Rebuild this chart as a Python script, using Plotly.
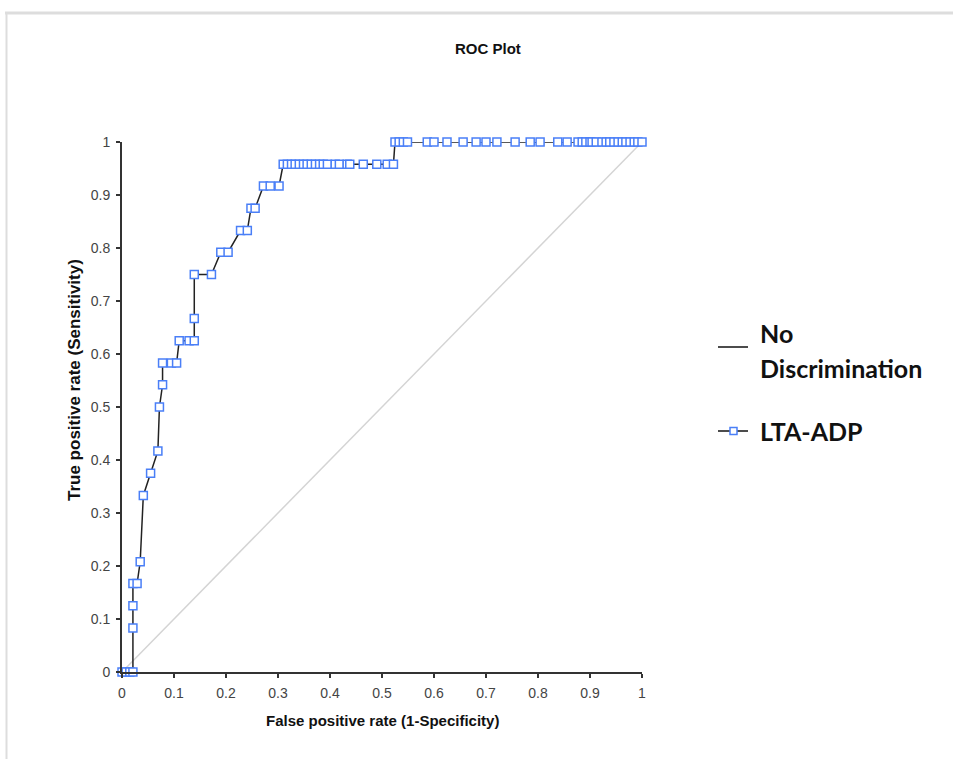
import plotly.graph_objects as go

# ---- data ----
fpr = [0, 0.008, 0.015, 0.021, 0.021, 0.021, 0.021, 0.029, 0.035, 0.041, 0.055, 0.069, 0.072, 0.078,
       0.078, 0.095, 0.105, 0.110, 0.129, 0.139, 0.139, 0.139, 0.172, 0.190, 0.204, 0.228, 0.241,
       0.248, 0.256, 0.272, 0.285, 0.302, 0.310, 0.318, 0.326, 0.333, 0.341, 0.349, 0.356, 0.364,
       0.372, 0.380, 0.387, 0.395, 0.410, 0.418, 0.433, 0.438, 0.464, 0.490, 0.510, 0.522, 0.525,
       0.533, 0.541, 0.549, 0.587, 0.600, 0.625, 0.656, 0.681, 0.700, 0.721, 0.756, 0.785, 0.804,
       0.838, 0.856, 0.877, 0.885, 0.892, 0.900, 0.904, 0.912, 0.923, 0.931, 0.938, 0.946, 0.954,
       0.962, 0.969, 0.977, 0.985, 0.992, 1.0]
tpr = [0, 0, 0, 0, 0.083, 0.125, 0.167, 0.167, 0.208, 0.333, 0.375, 0.417, 0.5, 0.542,
       0.583, 0.583, 0.583, 0.625, 0.625, 0.625, 0.667, 0.75, 0.75, 0.792, 0.792, 0.833, 0.833,
       0.875, 0.875, 0.917, 0.917, 0.917, 0.958, 0.958, 0.958, 0.958, 0.958, 0.958, 0.958, 0.958,
       0.958, 0.958, 0.958, 0.958, 0.958, 0.958, 0.958, 0.958, 0.958, 0.958, 0.958, 0.958, 1.0,
       1.0, 1.0, 1.0, 1.0, 1.0, 1.0, 1.0, 1.0, 1.0, 1.0, 1.0, 1.0, 1.0,
       1.0, 1.0, 1.0, 1.0, 1.0, 1.0, 1.0, 1.0, 1.0, 1.0, 1.0, 1.0, 1.0,
       1.0, 1.0, 1.0, 1.0, 1.0, 1.0]
diag_x = [0, 1]
diag_y = [0, 1]
tick_vals = [0, 0.1, 0.2, 0.3, 0.4, 0.5, 0.6, 0.7, 0.8, 0.9, 1]
tick_text = ["0", "0.1", "0.2", "0.3", "0.4", "0.5", "0.6", "0.7", "0.8", "0.9", "1"]

W, H = 953, 759
L, R, T, B = 122, 642, 142, 672


def px(x):
    return (x - L) / (R - L)


def py(y):
    return (B - y) / (B - T)


BLUE = "#4a7ff7"

fig = go.Figure()
fig.add_trace(go.Scatter(x=diag_x, y=diag_y, mode="lines", line=dict(color="#d4d4d4", width=1.5),
                         showlegend=False, hoverinfo="skip", cliponaxis=False))
fig.add_trace(go.Scatter(x=fpr, y=tpr, mode="lines+markers", line=dict(color="#222222", width=1.5),
                         marker=dict(symbol="square", size=8, color="white",
                                     line=dict(color=BLUE, width=1.5)),
                         showlegend=False, cliponaxis=False))

axis_common = dict(range=[0, 1], tickvals=tick_vals, ticktext=tick_text, showgrid=False, zeroline=False,
                   showline=True, linecolor="#333333", linewidth=2, ticks="outside", ticklen=4,
                   tickwidth=1.5, tickcolor="#333333", ticklabelstandoff=3,
                   tickfont=dict(family="Liberation Sans, Arial", size=14, color="#444444"))
fig.update_xaxes(**axis_common)
fig.update_yaxes(**axis_common)

ann = []
ann.append(dict(x=px(488), y=py(48), text="<b>ROC Plot</b>", showarrow=False, xref="paper", yref="paper",
                xanchor="center", yanchor="middle",
                font=dict(family="Liberation Sans, Arial", size=15, color="#111111")))
ann.append(dict(x=px(382), y=py(720), text="<b>False positive rate (1-Specificity)</b>", showarrow=False,
                xref="paper", yref="paper", xanchor="center", yanchor="middle",
                font=dict(family="Liberation Sans, Arial", size=15, color="#111111")))
ann.append(dict(x=px(74), y=py(380), text="<b>True positive rate (Sensitivity)</b>", showarrow=False,
                xref="paper", yref="paper", textangle=-90, xanchor="center", yanchor="middle",
                font=dict(family="Liberation Sans, Arial", size=17, color="#111111")))
legfont = dict(family="Lato, Open Sans", size=25, color="#111111")
ann.append(dict(x=px(758), y=py(333), text="<b>No</b>", showarrow=False, xref="paper", yref="paper",
                xanchor="left", yanchor="middle", font=legfont))
ann.append(dict(x=px(758), y=py(368), text="<b>Discrimination</b>", showarrow=False, xref="paper",
                yref="paper", xanchor="left", yanchor="middle", font=legfont))
ann.append(dict(x=px(758), y=py(431), text="<b>LTA-ADP</b>", showarrow=False, xref="paper", yref="paper",
                xanchor="left", yanchor="middle", font=legfont))

shapes = []
# legend symbols
shapes.append(dict(type="line", xref="paper", yref="paper", x0=px(718), x1=px(748), y0=py(347), y1=py(347),
                   line=dict(color="#111111", width=1.5)))
shapes.append(dict(type="line", xref="paper", yref="paper", x0=px(718), x1=px(748), y0=py(431), y1=py(431),
                   line=dict(color="#111111", width=1.5)))
shapes.append(dict(type="rect", xref="paper", yref="paper", x0=px(730), x1=px(737), y0=py(434.5),
                   y1=py(427.5), line=dict(color=BLUE, width=1.5), fillcolor="white"))
# frame borders of the original image
shapes.append(dict(type="line", xref="paper", yref="paper", x0=px(5), x1=px(953), y0=py(13), y1=py(13),
                   line=dict(color="#dddddd", width=3)))
shapes.append(dict(type="line", xref="paper", yref="paper", x0=px(6.5), x1=px(6.5), y0=py(12), y1=py(759),
                   line=dict(color="#dddddd", width=2)))

fig.update_layout(width=W, height=H, margin=dict(l=L, r=W - R, t=T, b=H - B),
                  paper_bgcolor="white", plot_bgcolor="white", annotations=ann, shapes=shapes,
                  showlegend=False)

fig.write_html("out.html")
